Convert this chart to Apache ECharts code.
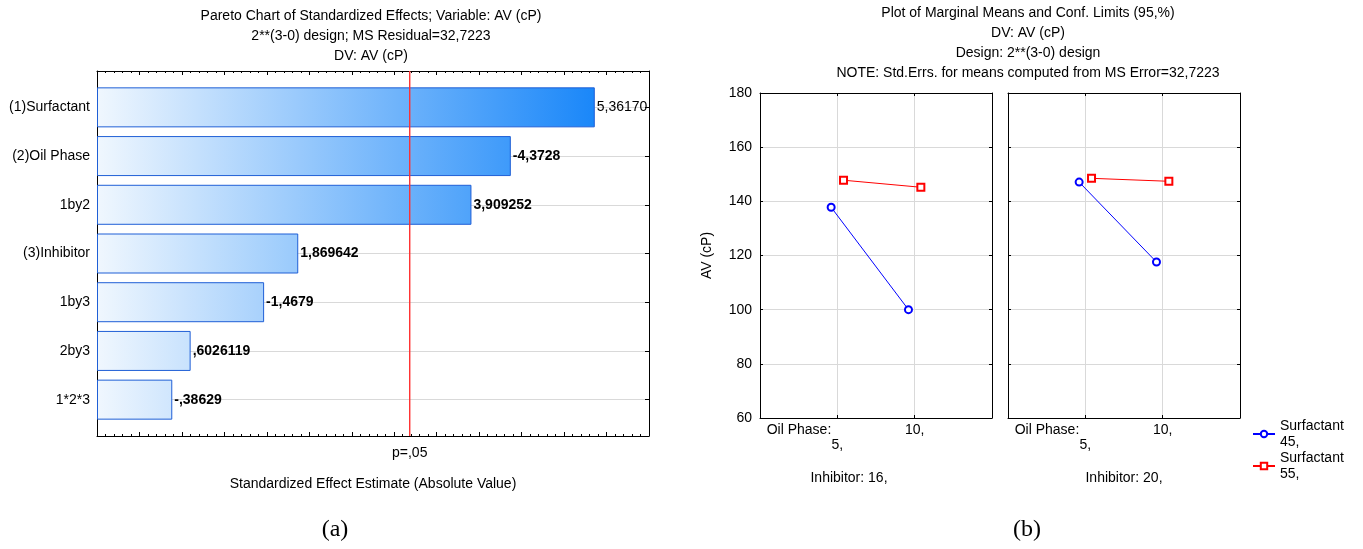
<!DOCTYPE html>
<html>
<head>
<meta charset="utf-8">
<script src="https://cdn.jsdelivr.net/npm/echarts@6/dist/echarts.min.js"></script>
<style>
  html, body { margin: 0; padding: 0; background: #fff; }
  #main { width: 1363px; height: 549px; }
</style>
</head>
<body>
<div id="main"></div>
<script>
// (a) Pareto chart data
var effectNames = ['(1)Surfactant', '(2)Oil Phase', '1by2', '(3)Inhibitor', '1by3', '2by3', '1*2*3'];
var effectValues = [5.36170, 4.3728, 3.909252, 1.869642, 1.4679, 0.6026119, 0.38629];
var effectLabels = ['5,36170', '-4,3728', '3,909252', '1,869642', '-1,4679', ',6026119', '-,38629'];
var pCritical = 3.1824;
var pLabel = 'p=,05';

// (b) marginal means data
var oilLevels = ['5,', '10,'];
var inhibitorLevels = ['16,', '20,'];
var surf45Inh16 = [137.8, 100.0];
var surf55Inh16 = [147.8, 145.2];
var surf45Inh20 = [147.1, 117.6];
var surf55Inh20 = [148.5, 147.4];
var surfNames = ['Surfactant\n45,', 'Surfactant\n55,'];
var yTicks = [60, 80, 100, 120, 140, 160, 180];

var FONT = 'Liberation Sans, Arial, sans-serif';
var FS = 14;
var txt = { fontFamily: FONT, fontSize: FS, color: '#000' };
var RED = '#ff3030';

// bar colour: light on the left, deeper blue toward the largest effect
var c0 = [240, 247, 254], c1 = [26, 135, 249];
function mix(t) {
  var r = c0.map(function (a, i) { return Math.round(a + (c1[i] - a) * t); });
  return 'rgb(' + r.join(',') + ')';
}
var xMinA = -0.5;
var vMax = Math.max.apply(null, effectValues);
var barData = effectValues.map(function (v, i) {
  return {
    value: v,
    itemStyle: {
      color: new echarts.graphic.LinearGradient(0, 0, 1, 0, [
        { offset: 0, color: mix(0) },
        { offset: 1, color: mix((v - xMinA) / (vMax - xMinA)) }
      ])
    },
    label: { fontWeight: i === 0 ? 'normal' : 'bold' }
  };
});

function pts(vals, shift) {
  return vals.map(function (v, i) { return [i + 1 + shift, v]; });
}

var frame = function (grid, pos, extra) {
  return Object.assign({
    type: 'value', gridIndex: grid, position: pos,
    axisLine: { show: true, onZero: false, lineStyle: { color: '#000', width: 1 } },
    axisTick: { show: false }, axisLabel: { show: false }, splitLine: { show: false }
  }, extra || {});
};
var tick = function (len) {
  return { show: true, inside: true, length: len, lineStyle: { color: '#000' } };
};
var oilLabel = {
  show: true, margin: 5, fontFamily: FONT, fontSize: FS, color: '#000', lineHeight: 15,
  formatter: function (v) {
    if (v === 0) return '{l|Oil Phase:}';
    if (v === 1) return '\n' + oilLevels[0];
    if (v === 2) return oilLevels[1];
    return '';
  },
  rich: { l: { fontFamily: FONT, fontSize: FS, color: '#000', padding: [0, 0, 0, 78] } }
};

var chart = echarts.init(document.getElementById('main'));
var option = {
  animation: false,
  textStyle: txt,
  title: [
    { text: 'Pareto Chart of Standardized Effects; Variable: AV (cP)\n2**(3-0) design; MS Residual=32,7223\nDV: AV (cP)',
      left: 366, top: 1, textAlign: 'center',
      textStyle: { fontFamily: FONT, fontSize: FS, fontWeight: 'normal', color: '#000', lineHeight: 20 } },
    { text: 'Plot of Marginal Means and Conf. Limits (95,%)\nDV: AV (cP)\nDesign: 2**(3-0) design\nNOTE: Std.Errs. for means computed from MS Error=32,7223',
      left: 1023, top: -2, textAlign: 'center',
      textStyle: { fontFamily: FONT, fontSize: FS, fontWeight: 'normal', color: '#000', lineHeight: 20 } },
    { text: '(a)', left: 330, top: 513, textAlign: 'center',
      textStyle: { fontFamily: 'Liberation Serif, Times New Roman, serif', fontSize: 24, fontWeight: 'normal', color: '#000' } },
    { text: '(b)', left: 1022, top: 513, textAlign: 'center',
      textStyle: { fontFamily: 'Liberation Serif, Times New Roman, serif', fontSize: 24, fontWeight: 'normal', color: '#000' } }
  ],
  legend: {
    data: surfNames, orient: 'vertical', left: 1247, top: 413,
    itemWidth: 22, itemHeight: 8, itemGap: 0,
    textStyle: { fontFamily: FONT, fontSize: FS, color: '#000', lineHeight: 16 }
  },
  grid: [
    { left: 97, top: 71, width: 552, height: 365 },      // pareto frame
    { left: 97, top: 83, width: 552, height: 341 },      // pareto bars
    { left: 760, top: 93, width: 232, height: 325 },     // means, inhibitor 16
    { left: 1008, top: 93, width: 232, height: 325 }     // means, inhibitor 20
  ],
  xAxis: [
    frame(0, 'bottom', {
      min: -0.5, max: 6, interval: 0.5, axisTick: tick(4),
      minorTick: { show: true, splitNumber: 5, length: 2, lineStyle: { color: '#000' } },
      name: 'Standardized Effect Estimate (Absolute Value)', nameLocation: 'middle', nameGap: 41,
      nameTextStyle: txt
    }),
    frame(0, 'top', {
      min: -0.5, max: 6, interval: 0.5, axisTick: tick(4),
      minorTick: { show: true, splitNumber: 5, length: 2, lineStyle: { color: '#000' } }
    }),
    { type: 'value', gridIndex: 1, min: -0.5, max: 6, startValue: -0.5, show: false },
    frame(2, 'bottom', {
      min: 0, max: 3, interval: 1, axisTick: tick(3),
      splitLine: { show: true, lineStyle: { color: '#d9d9d9' } },
      axisLabel: oilLabel,
      name: 'Inhibitor: ' + inhibitorLevels[0], nameLocation: 'middle', nameGap: 53,
      nameTextStyle: Object.assign({ padding: [0, 54, 0, 0] }, txt)
    }),
    frame(2, 'top', { min: 0, max: 3, interval: 1, axisTick: tick(3) }),
    frame(3, 'bottom', {
      min: 0, max: 3, interval: 1, axisTick: tick(3),
      splitLine: { show: true, lineStyle: { color: '#d9d9d9' } },
      axisLabel: oilLabel,
      name: 'Inhibitor: ' + inhibitorLevels[1], nameLocation: 'middle', nameGap: 53,
      nameTextStyle: txt
    }),
    frame(3, 'top', { min: 0, max: 3, interval: 1, axisTick: tick(3) })
  ],
  yAxis: [
    frame(0, 'left', { min: 0, max: 1 }),
    frame(0, 'right', { min: 0, max: 1 }),
    { type: 'category', gridIndex: 1, data: effectNames, inverse: true, position: 'left',
      axisLine: { show: false },
      axisTick: { show: true, inside: true, alignWithLabel: true, length: 4, lineStyle: { color: '#000' } },
      axisLabel: { margin: 7, fontFamily: FONT, fontSize: FS, color: '#000' } },
    { type: 'category', gridIndex: 1, data: effectNames, inverse: true, position: 'right',
      axisLine: { show: false }, axisLabel: { show: false },
      axisTick: { show: true, inside: true, alignWithLabel: true, length: 4, lineStyle: { color: '#000' } } },
    frame(2, 'left', {
      min: yTicks[0], max: yTicks[yTicks.length - 1], interval: 20, axisTick: tick(3),
      splitLine: { show: true, lineStyle: { color: '#d9d9d9' } },
      axisLabel: { show: true, margin: 8, fontFamily: FONT, fontSize: FS, color: '#000' },
      name: 'AV (cP)', nameLocation: 'middle', nameGap: 46, nameRotate: 90, nameTextStyle: txt
    }),
    frame(2, 'right', { min: 60, max: 180, interval: 20, axisTick: tick(3) }),
    frame(3, 'left', {
      min: 60, max: 180, interval: 20, axisTick: tick(3),
      splitLine: { show: true, lineStyle: { color: '#d9d9d9' } }
    }),
    frame(3, 'right', { min: 60, max: 180, interval: 20, axisTick: tick(3) })
  ],
  series: [
    // horizontal guide lines through each effect
    { type: 'line', xAxisIndex: 2, yAxisIndex: 2, data: [], z: 0, silent: true,
      markLine: { silent: true, symbol: 'none', z: 0, label: { show: false },
        lineStyle: { color: '#d9d9d9', type: 'solid', width: 1 },
        data: effectNames.map(function (n) { return { yAxis: n }; }) } },
    { type: 'bar', xAxisIndex: 2, yAxisIndex: 2, data: barData, barWidth: 40, z: 3,
      itemStyle: { borderColor: '#1f5fd6', borderWidth: 1 },
      label: { show: true, position: 'right', distance: 2, fontFamily: FONT, fontSize: FS, color: '#000',
        formatter: function (p) { return effectLabels[p.dataIndex]; } } },
    // p = .05 line, drawn over the full frame height
    { type: 'line', xAxisIndex: 0, yAxisIndex: 0, z: 6, silent: true,
      symbol: 'circle', symbolSize: 0, showSymbol: true,
      lineStyle: { color: RED, width: 1.4 }, itemStyle: { color: RED },
      data: [
        { value: [pCritical, 0], label: { show: true, position: 'bottom', distance: 10,
          formatter: pLabel, fontFamily: FONT, fontSize: FS, color: '#000' } },
        [pCritical, 1]
      ] },
    { name: surfNames[0], type: 'line', xAxisIndex: 3, yAxisIndex: 4, data: pts(surf45Inh16, -0.08),
      symbol: 'emptyCircle', symbolSize: 7, lineStyle: { color: '#0000ff', width: 1 }, itemStyle: { color: '#0000ff' } },
    { name: surfNames[1], type: 'line', xAxisIndex: 3, yAxisIndex: 4, data: pts(surf55Inh16, 0.08),
      symbol: 'emptyRect', symbolSize: 7, lineStyle: { color: '#ff0000', width: 1 }, itemStyle: { color: '#ff0000' } },
    { name: surfNames[0], type: 'line', xAxisIndex: 5, yAxisIndex: 6, data: pts(surf45Inh20, -0.08),
      symbol: 'emptyCircle', symbolSize: 7, lineStyle: { color: '#0000ff', width: 1 }, itemStyle: { color: '#0000ff' } },
    { name: surfNames[1], type: 'line', xAxisIndex: 5, yAxisIndex: 6, data: pts(surf55Inh20, 0.08),
      symbol: 'emptyRect', symbolSize: 7, lineStyle: { color: '#ff0000', width: 1 }, itemStyle: { color: '#ff0000' } }
  ]
};
chart.setOption(option);
</script>
</body>
</html>
